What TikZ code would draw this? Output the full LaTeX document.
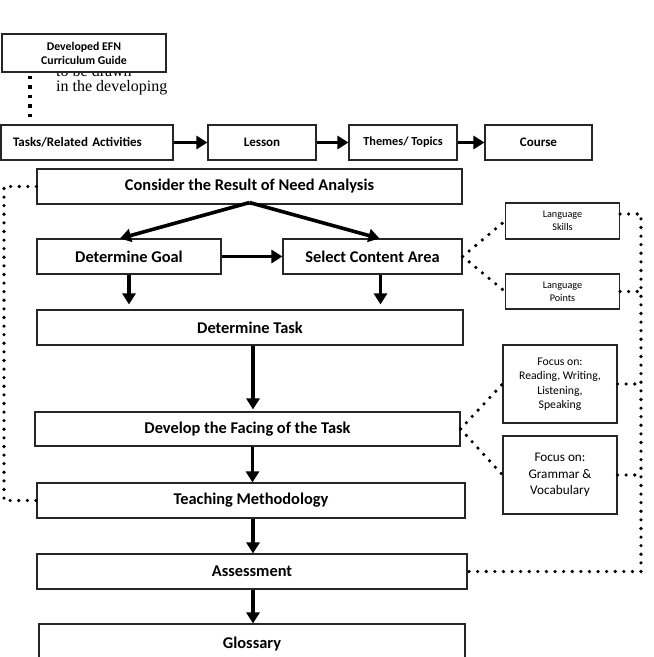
\documentclass[tikz,border=0pt]{standalone}
\usepackage{fontspec}
\setmainfont{Carlito}
\newfontfamily\notefont{Liberation Serif}
\usetikzlibrary{arrows.meta}
\usetikzlibrary{positioning}
\tikzset{box/.style = {draw=black!85, fill=white, line width=1.1pt, inner sep=0, align=center}}
\tikzset{bigbox/.style = {box, font=\fontsize{16.4}{18}\selectfont\bfseries}}
\tikzset{rowbox/.style = {box, minimum height=35, font=\fontsize{13}{15}\selectfont\bfseries}}
\tikzset{sidebox/.style = {box, minimum width=114}}
\tikzset{flow/.style = {line width=3.6pt, -{Triangle[length=11pt, width=13pt]}}}
\tikzset{dots/.style = {line width=3.6pt, line cap=round, dash pattern=on 0pt off 8.6pt}}
\tikzset{sqdots/.style = {line width=3.6pt, dash pattern=on 3.6pt off 5.9pt}}

\begin{document}
\begin{tikzpicture}[x=1pt, y=-1pt]
      \useasboundingbox (0, 0) rectangle (654, 657);

      % note text, half hidden behind the guide box
      \node [anchor=base west, inner sep=0, align=left, font=\notefont\fontsize{16}{14.5}\selectfont] (note) at (56, 91) {to be drawn\\in the developing};
      \node [box, minimum width=164, minimum height=38, font=\fontsize{11.8}{14}\selectfont\bfseries] (guide) at (84, 53) {Developed EFN\\Curriculum Guide};

      % top row
      \node [rowbox, minimum width=172, text width=148, align=left] (tasks) at (87, 142.5) {Tasks/Related Activities};
      \node [rowbox, minimum width=108] (lesson) at (262, 142.5) {Lesson};
      \node [rowbox, minimum width=108, font=\fontsize{12.3}{14}\selectfont\bfseries] (themes) at (403, 142.5) {\raisebox{2pt}{Themes/ Topics}};
      \node [rowbox, minimum width=107] (course) at (538.5, 142.5) {Course};

      % main column
      \node [bigbox, minimum width=425, minimum height=35] (consider) at (249.5, 186.5) {Consider the Result of Need Analysis};
      \node [bigbox, minimum width=184, minimum height=35] (goal) at (129, 256.5) {Determine Goal};
      \node [bigbox, minimum width=179, minimum height=35] (select) at (372.5, 256.5) {Select Content Area};
      \node [bigbox, minimum width=426, minimum height=35] (task) at (250, 327.5) {Determine Task};
      \node [bigbox, minimum width=425, minimum height=34] (develop) at (247.5, 429) {Develop the Facing of the Task};
      \node [bigbox, minimum width=428, minimum height=35] (method) at (251, 500.5) {Teaching Methodology};
      \node [bigbox, minimum width=430, minimum height=35] (assess) at (252, 571.5) {Assessment};
      \node [bigbox, minimum width=426, minimum height=40] (glossary) at (252, 644) {Glossary};

      % side boxes
      \node [sidebox, minimum height=36, font=\fontsize{10.2}{13}\selectfont] (skills) at (562.5, 221) {Language\\Skills};
      \node [sidebox, minimum height=35, font=\fontsize{10.2}{13}\selectfont] (points) at (562.5, 291.5) {Language\\Points};
      \node [sidebox, minimum height=78, font=\fontsize{11.7}{14.5}\selectfont] (focusA) at (560, 384) {Focus on:\\Reading, Writing,\\Listening,\\Speaking};
      \node [sidebox, minimum height=78, font=\fontsize{13.2}{16.7}\selectfont] (focusB) at (560, 475) {Focus on:\\Grammar \&\\Vocabulary};

      \coordinate (leftrail) at (4, 186.5);
      \coordinate (railtop) at (641, 214);
      \coordinate (railbot) at (641, 571.5);

      % arrows
      \draw [flow] (tasks.east) -- (lesson.west);
      \draw [flow] (lesson.east) -- (themes.west);
      \draw [flow] (themes.east) -- (course.west);
      \draw [flow] ([yshift=2pt]consider.south) -- ([xshift=-9pt]goal.north);
      \draw [flow] ([yshift=2pt]consider.south) -- ([xshift=7pt]select.north);
      \draw [flow] (goal.east) -- (select.west);
      \draw [flow, shorten >=5pt] (goal.south) -- (goal.south |- task.north);
      \draw [flow, shorten >=5pt] ([xshift=8pt]select.south) -- ([xshift=8pt]select.south |- task.north);
      \draw [flow, shorten >=2pt] ([xshift=3pt]task.south) -- ([xshift=3pt]task.south |- develop.north);
      \draw [flow] ([xshift=5pt]develop.south) -- ([xshift=5pt]develop.south |- method.north);
      \draw [flow] ([xshift=2pt]method.south) -- ([xshift=2pt]method.south |- assess.north);
      \draw [flow] ([xshift=1pt]assess.south) -- ([xshift=1pt]assess.south |- glossary.north);

      % dotted links
      \draw [sqdots] ([yshift=-3pt]guide.south -| 30, 0) -- ([yshift=5pt]tasks.north -| 30, 0);
      \draw [dots] (consider.west) -- (consider.west -| leftrail) -- (method.west -| leftrail) -- (method.west);
      \draw [dots] (select.east) -- (skills.west);
      \draw [dots] (select.east) -- (points.west);
      \draw [dots] (develop.east) -- (focusA.west);
      \draw [dots] (develop.east) -- (focusB.west);
      \draw [dots] ([yshift=7pt]skills.east) -- (railtop) -- (railbot) -- (assess.east);
      \draw [dots] (points.east) -- (points.east -| railtop);
      \draw [dots] (focusA.east) -- (focusA.east -| railtop);
      \draw [dots] (focusB.east) -- (focusB.east -| railtop);
\end{tikzpicture}
\end{document}
